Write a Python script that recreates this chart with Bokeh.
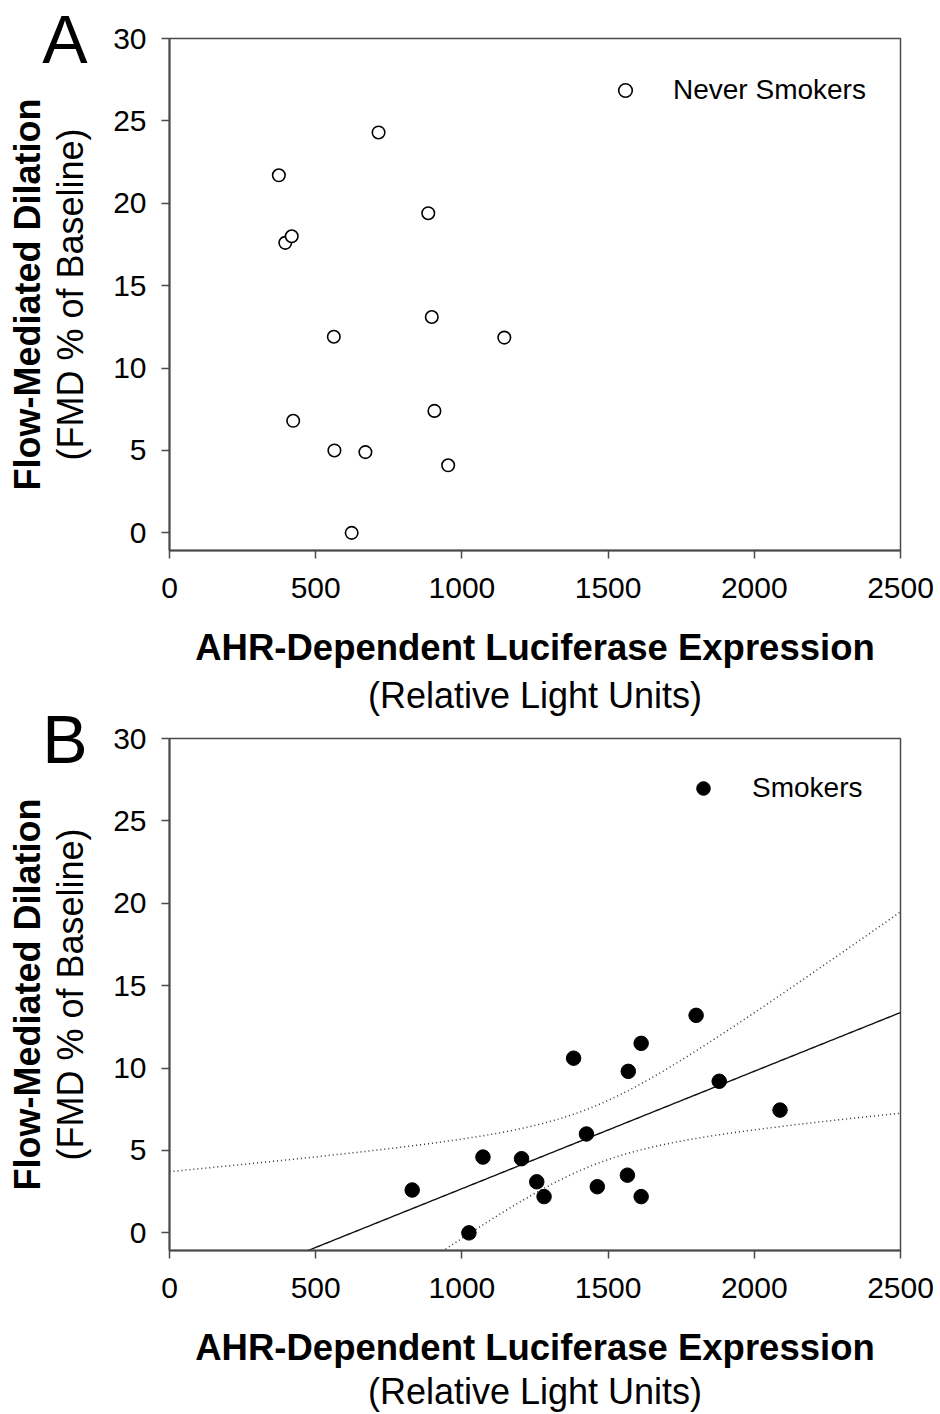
import numpy as np
from bokeh.plotting import figure
from bokeh.layouts import column
from bokeh.models import Range1d, FixedTicker, Legend, LegendItem, LinearAxis
from bokeh.embed import file_html
from bokeh.resources import INLINE

# ---------------- data ----------------
never_x = [715, 374, 885, 396, 418, 897, 562, 1145, 423, 906, 564, 670, 953, 623]
never_y = [24.3, 21.7, 19.4, 17.6, 18.0, 13.1, 11.9, 11.85, 6.8, 7.4, 5.0, 4.9, 4.1, 0.0]

smokers_x = [830, 1024, 1072, 1204, 1256, 1281, 1382, 1426, 1463, 1566, 1569, 1613, 1613, 1801, 1880, 2088]
smokers_y = [2.6, 0.0, 4.6, 4.5, 3.1, 2.2, 10.6, 6.0, 2.8, 3.5, 9.8, 11.5, 2.2, 13.2, 9.2, 7.45]

x_ticks = [0, 500, 1000, 1500, 2000, 2500]
y_ticks = [0, 5, 10, 15, 20, 25, 30]
x_lim = (0, 2500)
y_lim = (-1.07, 30)

x_title = "AHR-Dependent Luciferase Expression"
x_sub = "(Relative Light Units)"
y_title = "Flow-Mediated Dilation"
y_sub = "(FMD % of Baseline)"

FONT = "Liberation Sans"
AX = "#4a4a4a"
W = 940
LEFT = 169
FRAME_W = 731
FRAME_H = 512


def bare_axis(label, style, size, standoff):
    return LinearAxis(ticker=FixedTicker(ticks=[]), axis_line_color=None,
                      major_tick_line_color=None, minor_tick_line_color=None,
                      major_tick_out=0, major_tick_in=0, major_label_standoff=0,
                      axis_label=label, axis_label_text_font=FONT,
                      axis_label_text_font_size=size, axis_label_text_font_style=style,
                      axis_label_text_color="black", axis_label_standoff=standoff)


def make_panel(height, top, letter, sub_standoff):
    p = figure(width=W, height=height, output_backend="svg", toolbar_location=None,
               x_range=Range1d(*x_lim), y_range=Range1d(*y_lim),
               min_border_left=LEFT, min_border_right=W - LEFT - FRAME_W,
               min_border_top=top, min_border_bottom=height - top - FRAME_H)
    p.title.visible = False
    p.xgrid.visible = False
    p.ygrid.visible = False
    p.background_fill_color = "white"
    p.border_fill_color = "white"
    p.outline_line_color = AX
    p.outline_line_width = 1.5
    for ax, ticks in ((p.xaxis[0], x_ticks), (p.yaxis[0], y_ticks)):
        ax.ticker = FixedTicker(ticks=ticks)
        ax.axis_line_color = AX
        ax.axis_line_width = 2
        ax.major_tick_line_color = AX
        ax.major_tick_line_width = 1.5
        ax.major_tick_out = 8
        ax.major_tick_in = 0
        ax.minor_tick_line_color = None
        ax.major_label_text_font = FONT
        ax.major_label_text_color = "black"
        ax.major_label_text_font_size = "30px"
        ax.axis_label_text_font = FONT
        ax.axis_label_text_color = "black"
    p.xaxis[0].major_label_standoff = 19
    p.yaxis[0].major_label_standoff = 15

    # x titles: bold one is the axis label, the unit line sits on a bare axis below it
    p.xaxis[0].axis_label = x_title
    p.xaxis[0].axis_label_text_font_size = "36.5px"
    p.xaxis[0].axis_label_text_font_style = "bold"
    p.xaxis[0].axis_label_standoff = 26
    p.add_layout(bare_axis(x_sub, "normal", "36px", sub_standoff), "below")

    # y titles: unit line is the axis label, the bold one sits on a bare axis further out
    p.yaxis[0].axis_label = y_sub
    p.yaxis[0].axis_label_text_font_size = "36px"
    p.yaxis[0].axis_label_text_font_style = "normal"
    p.yaxis[0].axis_label_standoff = 19
    p.add_layout(bare_axis(y_title, "bold", "36px", 0), "left")

    # panel letter, carried by a bare axis at the top of the y range
    lax = LinearAxis(ticker=FixedTicker(ticks=[y_ticks[-1]]),
                     major_label_overrides={y_ticks[-1]: letter},
                     axis_line_color=None, major_tick_line_color=None,
                     minor_tick_line_color=None, major_tick_out=0, major_tick_in=0,
                     major_label_standoff=-84, major_label_text_font=FONT,
                     major_label_text_font_size="68px", major_label_text_color="black")
    p.add_layout(lax, "left")
    return p


# ---------------- panel A ----------------
pA = make_panel(718, 38, "A", 4)
rA = pA.scatter(never_x, never_y, size=12.5, marker="circle",
                fill_color="white", line_color="black", line_width=1.6)
legA = Legend(items=[LegendItem(label="Never Smokers", renderers=[rA])],
              location=(439, 443), glyph_width=34, glyph_height=34, label_height=34,
              label_standoff=31, padding=0, margin=0, spacing=0,
              border_line_color=None, background_fill_alpha=0,
              label_text_font=FONT, label_text_font_size="28px", label_text_color="black")
pA.add_layout(legA)

# ---------------- panel B ----------------
pB = make_panel(724, 48, "B", 0)
pB.border_fill_color = None
pB.margin = (-28, 0, 0, 0)

xs = np.array(smokers_x, dtype=float)
ys = np.array(smokers_y, dtype=float)
n = len(xs)
slope, intercept = np.polyfit(xs, ys, 1)
resid = ys - (slope * xs + intercept)
s = np.sqrt(np.sum(resid ** 2) / (n - 2))
sxx = np.sum((xs - xs.mean()) ** 2)
t_crit = 2.1448  # t(0.975, df=14)
xg = np.linspace(x_lim[0], x_lim[1], 251)
fit = slope * xg + intercept
half = t_crit * s * np.sqrt(1.0 / n + (xg - xs.mean()) ** 2 / sxx)

pB.line(xg, fit, line_color="#111111", line_width=1.4)
pB.line(xg, fit + half, line_color="#333333", line_width=1.5, line_dash="1 3")
pB.line(xg, fit - half, line_color="#333333", line_width=1.5, line_dash="1 3")

rB = pB.scatter(smokers_x, smokers_y, size=14.5, marker="circle",
                fill_color="black", line_color="black", line_width=1)
legB = Legend(items=[LegendItem(label="Smokers", renderers=[rB])],
              location=(517, 445), glyph_width=34, glyph_height=34, label_height=34,
              label_standoff=32, padding=0, margin=0, spacing=0,
              border_line_color=None, background_fill_alpha=0,
              label_text_font=FONT, label_text_font_size="28px", label_text_color="black")
pB.add_layout(legB)

layout = column(pA, pB, spacing=0)
open("out.html", "w").write(file_html(layout, INLINE))
